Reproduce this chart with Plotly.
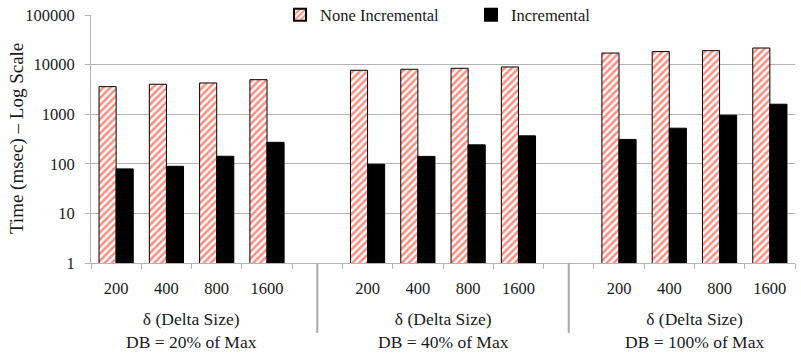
import plotly.graph_objects as go

# ---- data ----
groups = ["DB = 20% of Max", "DB = 40% of Max", "DB = 100% of Max"]
delta_sizes = ["200", "400", "800", "1600"]
none_incremental = [
    [3590, 4010, 4260, 4960],
    [7690, 8050, 8430, 8960],
    [17100, 18300, 19100, 21600],
]
incremental = [
    [79, 89, 142, 271],
    [98, 141, 241, 366],
    [310, 522, 955, 1590],
]
y_tick_vals = [1, 10, 100, 1000, 10000, 100000]
y_tick_text = ["1", "10", "100", "1000", "10000", "100000"]
series_names = ["None Incremental", "Incremental"]
group_subtitle = "δ (Delta Size)"
y_title = "Time (msec) – Log Scale"

FONT = "Times New Roman, Liberation Serif, serif"
GRID = "#b4b4b4"
TXT = "#1a1a1a"

# slot positions: 4 categories per group plus one empty slot between groups
slots_per_group = len(delta_sizes) + 1
xs, ni_vals, inc_vals, tick_text = [], [], [], []
for g in range(len(groups)):
    for i, d in enumerate(delta_sizes):
        xs.append(g * slots_per_group + i)
        ni_vals.append(none_incremental[g][i])
        inc_vals.append(incremental[g][i])
        tick_text.append(d)
n_slots = len(groups) * slots_per_group - 1
boundaries = [s - 0.5 for s in range(n_slots + 1)]

fig = go.Figure()
fig.add_trace(go.Bar(
    x=xs, y=ni_vals, name=series_names[0],
    marker=dict(color="white",
                line=dict(color="black", width=1),
                pattern=dict(shape="/", fgcolor="#ff1a00", bgcolor="white",
                             size=5, solidity=0.5)),
))
fig.add_trace(go.Bar(
    x=xs, y=inc_vals, name=series_names[1],
    marker=dict(color="black", line=dict(color="black", width=1)),
))

# group labels and separators
for g, label in enumerate(groups):
    center = g * slots_per_group + (len(delta_sizes) - 1) / 2
    fig.add_annotation(
        x=center, xref="x", y=-0.178, yref="paper",
        text=f"{group_subtitle}<br>{label}", showarrow=False,
        yanchor="top", align="center",
        font=dict(family=FONT, size=17.5, color=TXT),
    )
    if g > 0:
        sep = g * slots_per_group - 1
        fig.add_shape(type="line", xref="x", yref="paper",
                      x0=sep, x1=sep, y0=0, y1=-0.282,
                      line=dict(color="#a8a8a8", width=2))

# y-axis title
fig.add_annotation(
    x=-0.105, xref="paper", y=0.5, yref="paper",
    text=y_title, textangle=-90, showarrow=False,
    xanchor="center", yanchor="middle",
    font=dict(family=FONT, size=19, color=TXT),
)

fig.update_layout(
    width=801, height=360,
    margin=dict(l=91, r=6, t=15, b=97, autoexpand=False),
    paper_bgcolor="white", plot_bgcolor="white",
    barmode="group", bargap=0.32, bargroupgap=0,
    font=dict(family=FONT, size=16.5, color=TXT),
    legend=dict(orientation="h", x=0.2685, xanchor="left", y=1.0,
                yanchor="middle", bgcolor="white",
                font=dict(family=FONT, size=16.5, color=TXT),
                entrywidth=146, itemsizing="constant"),
    xaxis=dict(
        range=[-0.5, n_slots - 0.5], automargin=False,
        tickmode="array", tickvals=xs, ticktext=tick_text,
        ticks="", ticklabelstandoff=10,
        showgrid=False, zeroline=False,
        showline=True, linecolor=GRID, linewidth=1,
        tickfont=dict(family=FONT, size=16.5, color=TXT),
        minor=dict(tickmode="array", tickvals=boundaries, ticks="outside",
                   ticklen=5, tickcolor=GRID, showgrid=False),
    ),
    yaxis=dict(
        type="log", range=[0, 5], automargin=False,
        tickmode="array", tickvals=y_tick_vals, ticktext=y_tick_text,
        ticks="outside", ticklen=5, tickcolor=GRID, ticklabelstandoff=7,
        ticklabeloverflow="allow",
        showgrid=True, gridcolor=GRID, gridwidth=1,
        showline=True, linecolor=GRID, linewidth=1,
        zeroline=False,
        tickfont=dict(family=FONT, size=16.5, color=TXT),
    ),
)

# remove the browser's default 8px body margin so the figure fills the window
fig.write_html("out.html",
               config={"displayModeBar": False},
               post_script="document.body.style.margin='0';")
